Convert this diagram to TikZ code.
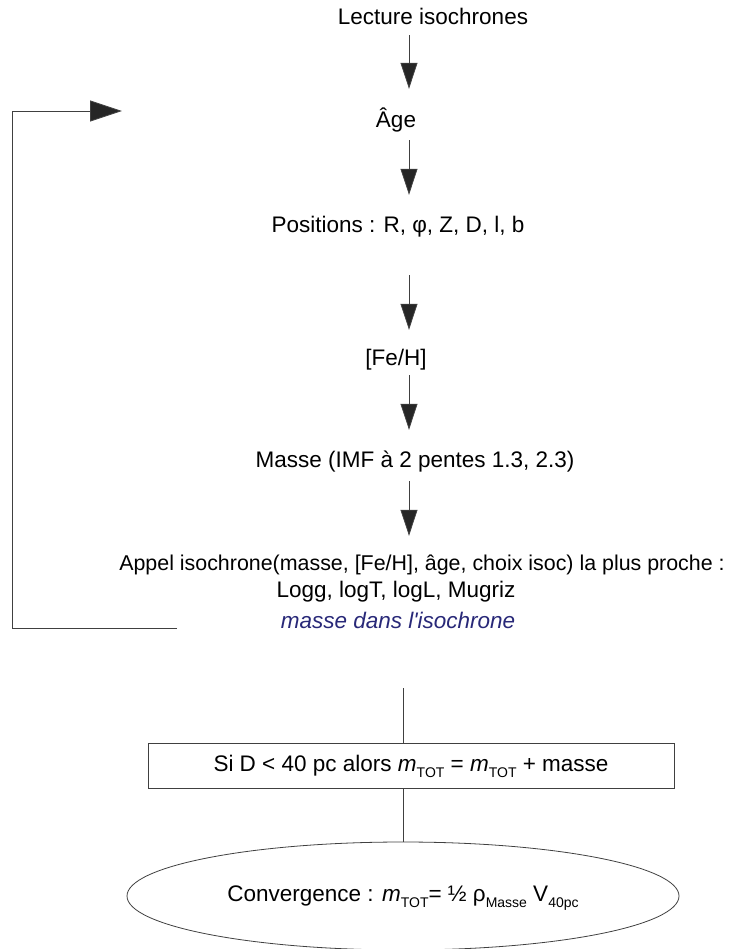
\documentclass[tikz,border=0pt]{standalone}
\usepackage{fontspec}
\setmainfont{Liberation Sans}
\usetikzlibrary{positioning}
\usetikzlibrary{arrows.meta}
\usetikzlibrary{shapes.geometric}
\definecolor{bleuisoc}{RGB}{40,40,120}
\newcommand{\indice}[1]{\raisebox{-6pt}{\fontsize{14}{14}\selectfont #1}}

\begin{document}
\begin{tikzpicture}[x=1pt, y=-1pt, font=\fontsize{22.5}{26}\selectfont,
    etape/.style={inner sep=0pt, anchor=base, text height=16pt, text depth=5pt},
    fleche/.style={draw=black!75, line width=0.8pt, -{Triangle[length=26pt, width=17pt, fill=black!85]}},
    boucle/.style={draw=black!75, line width=0.8pt, -{Triangle[length=32pt, width=21pt, fill=black!85]}},
    trait/.style={draw=black!75, line width=0.8pt}]
    \useasboundingbox (0,0) rectangle (728,949);
    % chaine principale
    \node[etape] (lecture) at (433,25) {Lecture isochrones};
    \node[etape] (age) at (396,128) {Âge};
    \node[etape] (positions) at (398,233) {Positions : R, φ, Z, D, l, b};
    \node[etape] (feh) at (396,365) {[Fe/H]};
    \node[etape] (masse) at (415,467) {Masse (IMF à 2 pentes 1.3, 2.3)};
    \node[etape, font=\fontsize{21.4}{26}\selectfont] (appel) at (422,570) {Appel isochrone(masse, [Fe/H], âge, choix isoc) la plus proche :};
    \node[etape] (sortie) at (396,597) {Logg, logT, logL, Mugriz};
    \node[etape, text=bleuisoc, font=\fontsize{22.5}{26}\selectfont\itshape] (isoc) at (398,628) {masse dans l\textquotesingle isochrone};
    \coordinate (col) at (409,0);
    \draw[fleche, shorten <=5pt, shorten >=23pt] (lecture.south -| col) -- (age.north -| col);
    \draw[fleche, shorten <=7pt, shorten >=22pt] (age.south -| col) -- (positions.north -| col);
    \draw[fleche, shorten <=37pt, shorten >=19pt] (positions.south -| col) -- (feh.north -| col);
    \draw[fleche, shorten <=5pt, shorten >=21pt] (feh.south -| col) -- (masse.north -| col);
    \draw[fleche, shorten <=9pt, shorten >=18pt] (masse.south -| col) -- (appel.north -| col);
    % retour vers l'age
    \coordinate (depart) at (177,628);
    \coordinate (arrivee) at (122,111);
    \draw[boucle] (depart) -- ++(-165,0) |- (arrivee);
    % bilan de masse
    \coordinate (haut) at (403,688);
    \node[draw=black!75, line width=0.8pt, minimum width=526pt, minimum height=45pt, text height=16pt, text depth=5pt] (test) at (411,765.5) {Si D < 40 pc alors \textit{m}\indice{TOT} = \textit{m}\indice{TOT} + masse};
    \node[ellipse, draw=black!75, line width=0.8pt, minimum width=552pt, minimum height=108pt, text height=16pt, text depth=5pt] (conv) at (403,896) {Convergence : \textit{m}\indice{TOT}= ½ ρ\indice{Masse} V\indice{40pc}};
    \draw[trait] (haut) -- (haut |- test.north);
    \draw[trait] (test.south -| haut) -- (conv.north);
\end{tikzpicture}
\end{document}
